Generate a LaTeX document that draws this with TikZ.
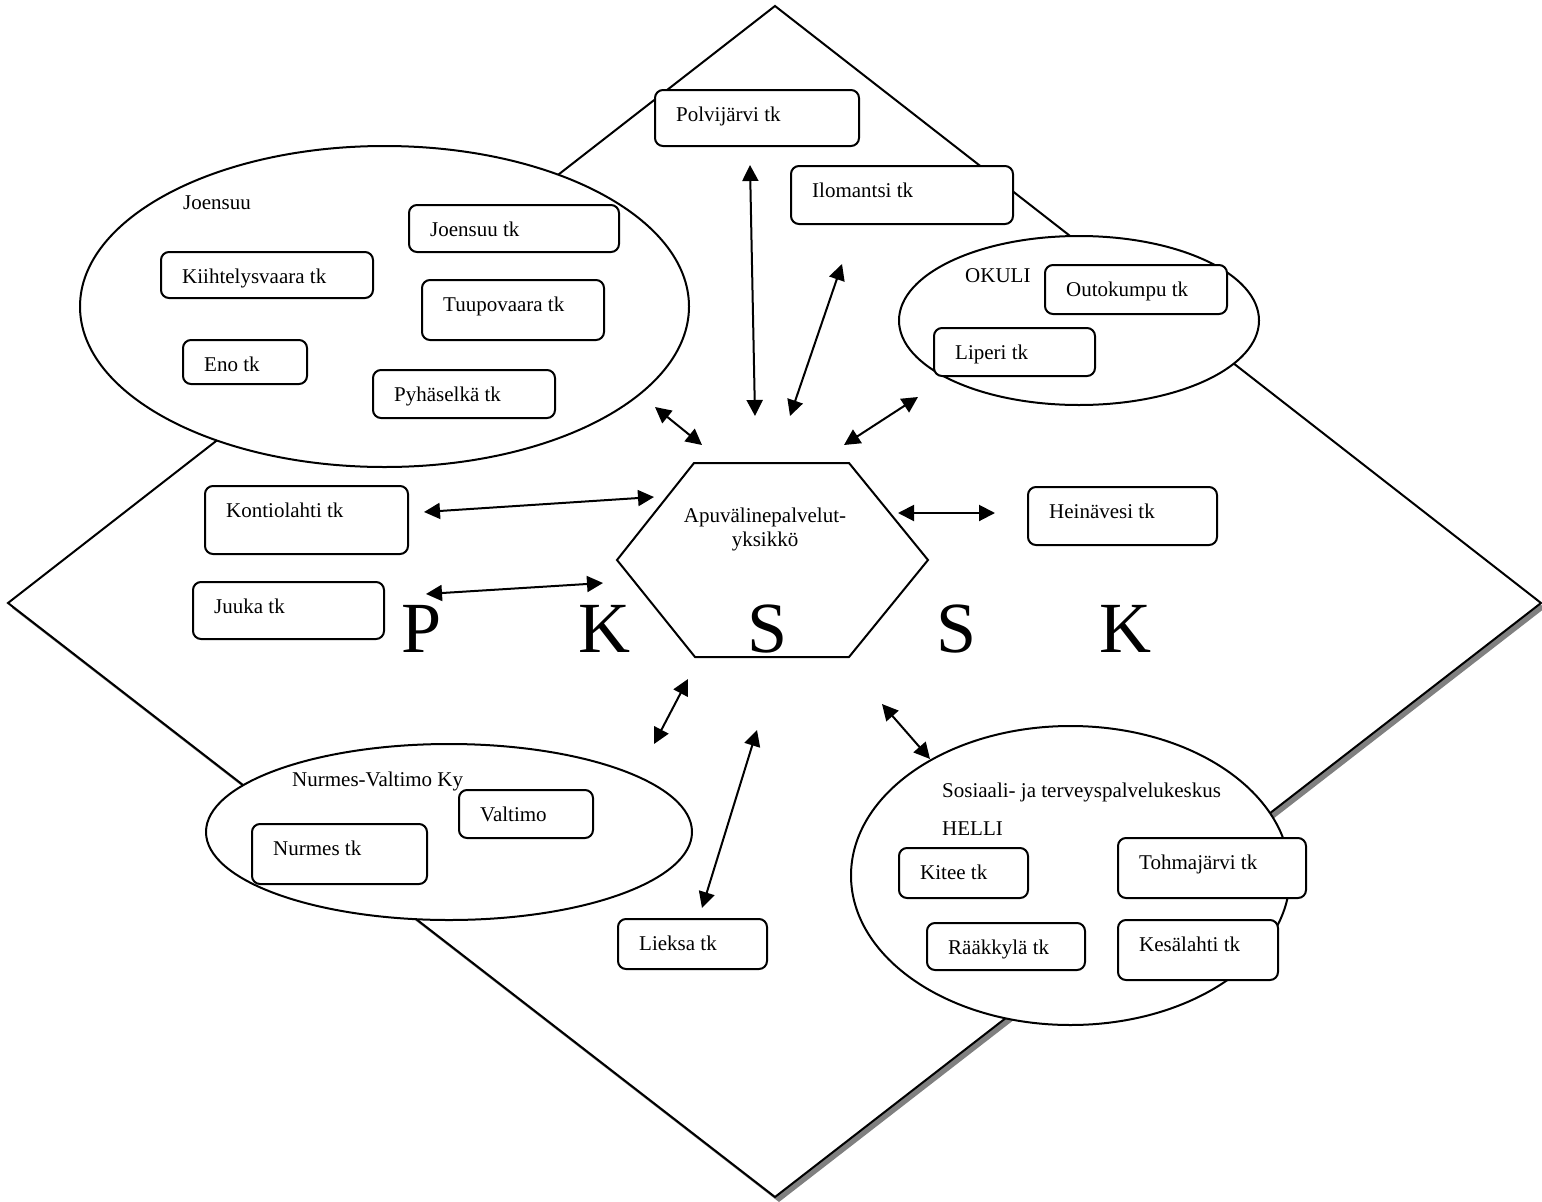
\documentclass[tikz,border=0pt]{standalone}
\usepackage{fontspec}
\setmainfont{Liberation Serif}
\usetikzlibrary{shapes.geometric,arrows.meta}
\tikzset{
  ln/.style={line width=2pt, line join=miter},
  tkb/.style={ln, draw, fill=white, rounded corners=8pt, rectangle, inner sep=0pt},
  ell/.style={ln, draw, fill=white, ellipse, inner sep=0pt},
  lbl/.style={inner sep=0pt, font=\fontsize{21}{25}\selectfont},
  big/.style={inner sep=0pt, font=\fontsize{72}{80}\selectfont},
  dar/.style={ln, {Triangle[length=16pt,width=16pt]}-{Triangle[length=16pt,width=16pt]}}
}
\newcommand\tkbox[6]{%
  \node[tkb, minimum width={#4-#2}, minimum height={#5-#3}, anchor=north west] (#1) at (#2,#3) {};
  \node[lbl, anchor=base west] (#1t) at ([xshift=22pt,yshift=-32pt]#1.north west) {#6};}
\begin{document}
\begin{tikzpicture}[x=1pt,y=-1pt]
\useasboundingbox (0,0) rectangle (1542,1202);
\fill[white] (0,0) rectangle (1542,1202);
% diamond with shadow
\fill[black!50] (779,11) -- (1545,608) -- (779,1202) -- (12,608) -- cycle;
\draw[ln, fill=white] (775,6) -- (1541,603) -- (775,1197) -- (8,603) -- cycle;
% group ellipses
\node[ell, minimum width=609, minimum height=321] (joe) at (384.5,306.5) {};
\node[ell, minimum width=360, minimum height=169] (oku) at (1079,320.5) {};
\node[ell, minimum width=486, minimum height=176] (nur) at (449,832) {};
\node[ell, minimum width=439, minimum height=299] (sos) at (1070.5,875.5) {};
% group labels
\node[lbl, anchor=base west] (joel) at (183,209) {Joensuu};
\node[lbl, anchor=base west] (okul) at (965,282) {OKULI};
\node[lbl, anchor=base west] (nurl) at (292,786) {Nurmes-Valtimo Ky};
\node[lbl, anchor=base west] (sosl) at (942,797) {Sosiaali- ja terveyspalvelukeskus};
\node[lbl, anchor=base west] (hell) at (942,835) {HELLI};
% boxes
\tkbox{polv}{654}{89}{858}{145}{Polvijärvi tk}
\tkbox{ilom}{790}{165}{1012}{223}{Ilomantsi tk}
\tkbox{joet}{408}{204}{618}{251}{Joensuu tk}
\tkbox{kiih}{160}{251}{372}{297}{Kiihtelysvaara tk}
\tkbox{tuup}{421}{279}{603}{339}{Tuupovaara tk}
\tkbox{eno}{182}{339}{306}{383}{Eno tk}
\tkbox{pyha}{372}{369}{554}{417}{Pyhäselkä tk}
\tkbox{outo}{1044}{264}{1226}{313}{Outokumpu tk}
\tkbox{lipe}{933}{327}{1094}{375}{Liperi tk}
\tkbox{kont}{204}{485}{407}{553}{Kontiolahti tk}
\tkbox{juuk}{192}{581}{383}{638}{Juuka tk}
\tkbox{hein}{1027}{486}{1216}{544}{Heinävesi tk}
\tkbox{valt}{458}{789}{592}{837}{Valtimo}
\tkbox{nurm}{251}{823}{426}{883}{Nurmes tk}
\tkbox{liek}{617}{918}{766}{968}{Lieksa tk}
\tkbox{kite}{898}{847}{1027}{897}{Kitee tk}
\tkbox{tohm}{1117}{837}{1305}{897}{Tohmajärvi tk}
\tkbox{raak}{926}{922}{1084}{969}{Rääkkylä tk}
\tkbox{kesa}{1117}{919}{1277}{979}{Kesälahti tk}
% hexagon
\draw[ln, fill=white] (694,463) -- (849,463) -- (928,560) -- (849,657) -- (695,657) -- (617,560) -- cycle;
\node[lbl, anchor=base] (hexa) at (765,522) {Apuvälinepalvelut-};
\node[lbl, anchor=base] (hexb) at (765,546) {yksikkö};
% big letters
\node[big, anchor=base] (bp) at (422,652) {P};
\node[big, anchor=base] (bk1) at (604,652) {K};
\node[big, anchor=base] (bs1) at (768,652) {S};
\node[big, anchor=base] (bs2) at (957,652) {S};
\node[big, anchor=base] (bk2) at (1125,652) {K};
% arrow end points
\coordinate (a1s) at (750,165); \coordinate (a1e) at (755,416);
\coordinate (a2s) at (842,264); \coordinate (a2e) at (790,416);
\coordinate (a3s) at (655,407); \coordinate (a3e) at (702,445);
\coordinate (a4s) at (918,397); \coordinate (a4e) at (844,445);
\coordinate (a5s) at (424,512); \coordinate (a5e) at (654,497);
\coordinate (a6s) at (426,594); \coordinate (a6e) at (603,583);
\coordinate (a7s) at (898,513); \coordinate (a7e) at (995,513);
\coordinate (a8s) at (688,679); \coordinate (a8e) at (654,744);
\coordinate (a9s) at (757,730); \coordinate (a9e) at (702,908);
\coordinate (a10s) at (882,704); \coordinate (a10e) at (930,759);
\foreach \i in {1,...,10} { \draw[dar] (a\i s) -- (a\i e); }
\end{tikzpicture}
\end{document}
